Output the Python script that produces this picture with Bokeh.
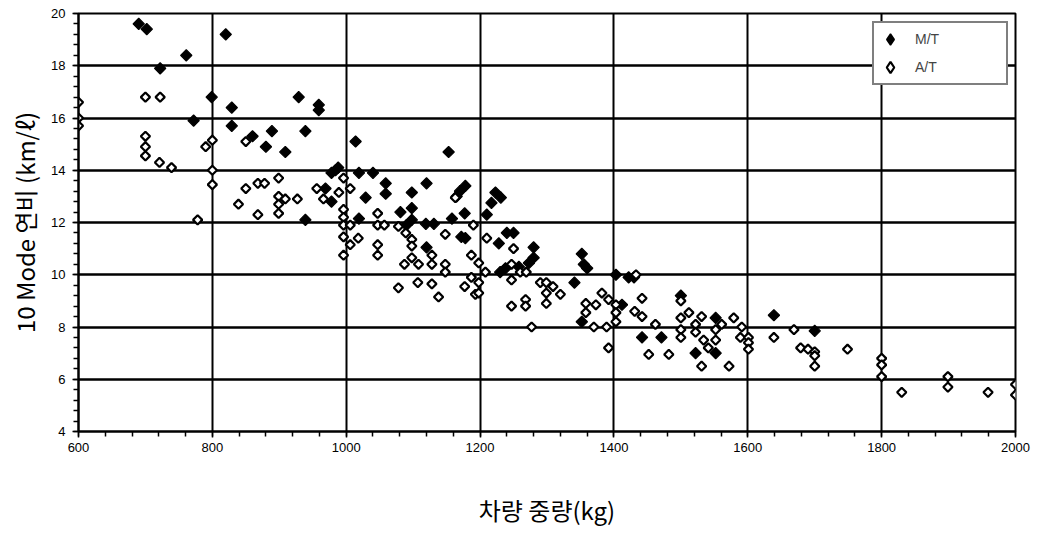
import numpy as np
from bokeh.plotting import figure
from bokeh.models import FixedTicker, Legend, LegendItem, Range1d
from bokeh.embed import file_html
from bokeh.resources import INLINE

# M/T (manual transmission) - vehicle weight (kg), 10 Mode fuel economy (km/l)
mt_weight = [690, 702, 722, 761, 820, 772, 799, 829, 829, 860, 889, 880, 909, 939, 929, 959, 959, 939,
             1014, 978, 988, 969, 978, 984, 1019, 1040, 1153, 1059, 1059, 1029, 1120, 1098, 1098, 1081,
             1019, 1098, 1090, 1119, 1131, 1158, 1177, 1172, 1178, 1120, 1165, 1170, 1178, 1223, 1231,
             1217, 1210, 1240, 1250, 1228, 1280, 1280, 1230, 1238, 1258, 1273, 1352, 1355, 1360, 1341,
             1403, 1422, 1430, 1412, 1352, 1442, 1471, 1522, 1552, 1552, 1639, 1700, 1500]
mt_fuel = [19.6, 19.4, 17.9, 18.4, 19.2, 15.9, 16.8, 16.4, 15.7, 15.3, 15.5, 14.9, 14.7, 15.5, 16.8, 16.5, 16.3, 12.1,
           15.1, 13.9, 14.1, 13.3, 12.8, 14.0, 13.9, 13.9, 14.7, 13.5, 13.1, 12.95, 13.5, 13.15, 12.55, 12.4,
           12.15, 12.1, 11.9, 11.95, 11.95, 12.15, 12.35, 11.45, 11.4, 11.05, 13.0, 13.2, 13.4, 13.15, 12.95,
           12.75, 12.3, 11.6, 11.6, 11.2, 11.05, 10.65, 10.1, 10.25, 10.3, 10.45, 10.8, 10.4, 10.25, 9.7,
           10.0, 9.9, 9.9, 8.85, 8.2, 7.6, 7.6, 7.0, 7.0, 8.35, 8.45, 7.85, 9.2]

# A/T (automatic transmission)
at_weight = [600, 600, 600, 700, 722, 700, 700, 700, 721, 739, 778, 800, 790, 800, 800, 850, 850, 839, 868, 878,
             868, 899, 899, 899, 909, 899, 927, 956, 966, 989, 996, 1006, 996, 996, 996, 996, 1006, 1006, 1018,
             996, 1047, 1047, 1057, 1047, 1047, 1078, 1089, 1098, 1098, 1098, 1087, 1108, 1128, 1128, 1148,
             1148, 1078, 1107, 1128, 1138, 1148, 1163, 1187, 1190, 1177, 1187, 1193, 1210, 1250, 1198, 1198,
             1198, 1208, 1247, 1247, 1260, 1269, 1290, 1299, 1309, 1299, 1320, 1299, 1247, 1268, 1268, 1277,
             1358, 1358, 1373, 1382, 1392, 1403, 1403, 1403, 1370, 1389, 1392, 1433, 1442, 1431, 1442, 1462,
             1500, 1512, 1500, 1500, 1500, 1522, 1522, 1531, 1534, 1541, 1552, 1552, 1561, 1531, 1572, 1452,
             1482, 1579, 1591, 1589, 1601, 1601, 1601, 1639, 1669, 1679, 1690, 1700, 1700, 1700, 1749, 1800,
             1800, 1800, 1830, 1899, 1899, 1959, 2000, 2000]
at_fuel = [16.6, 16.0, 15.7, 16.8, 16.8, 15.3, 14.9, 14.55, 14.3, 14.1, 12.1, 15.15, 14.9, 14.0, 13.45, 15.1, 13.3, 12.7, 13.5, 13.5,
           12.3, 13.7, 13.0, 12.7, 12.9, 12.35, 12.9, 13.3, 12.9, 13.15, 13.7, 13.3, 12.5, 12.2, 11.9, 11.45, 11.9, 11.15, 11.4,
           10.75, 12.35, 11.9, 11.9, 11.15, 10.75, 11.85, 11.6, 11.35, 11.1, 10.65, 10.4, 10.4, 10.75, 10.4, 10.4,
           10.1, 9.5, 9.7, 9.65, 9.15, 11.55, 12.95, 10.75, 11.9, 9.55, 9.9, 9.25, 11.4, 11.0, 10.45, 9.7,
           9.3, 10.1, 10.4, 9.8, 10.1, 10.1, 9.7, 9.7, 9.55, 9.3, 9.25, 8.9, 8.8, 9.05, 8.8, 8.0,
           8.9, 8.55, 8.85, 9.3, 9.05, 8.85, 8.55, 8.2, 8.0, 8.0, 7.2, 10.0, 9.1, 8.6, 8.4, 8.1,
           9.0, 8.55, 8.35, 7.9, 7.6, 8.1, 7.8, 8.4, 7.5, 7.2, 7.5, 7.9, 8.1, 6.5, 6.5, 6.95,
           6.95, 8.35, 8.0, 7.6, 7.6, 7.4, 7.15, 7.6, 7.9, 7.2, 7.15, 7.05, 6.9, 6.5, 7.15, 6.8,
           6.55, 6.1, 5.5, 6.1, 5.7, 5.5, 5.8, 5.4]

x_ticks = [600, 800, 1000, 1200, 1400, 1600, 1800, 2000]
y_ticks = [4, 6, 8, 10, 12, 14, 16, 18, 20]
series_labels = ["M/T", "A/T"]

p = figure(width=1038, height=529, output_backend="svg", toolbar_location=None,
           x_range=Range1d(600, 2000), y_range=Range1d(4, 20),
           min_border_left=78, min_border_right=23, min_border_top=13, min_border_bottom=98)
p.background_fill_color = "white"
p.border_fill_color = "white"
p.outline_line_color = "black"
p.outline_line_width = 2

xminor = np.arange(600, 2001, 40).tolist()
yminor = [round(v, 2) for v in np.arange(4, 20.01, 0.4).tolist()]
p.xaxis.ticker = FixedTicker(ticks=x_ticks, minor_ticks=xminor)
p.yaxis.ticker = FixedTicker(ticks=y_ticks, minor_ticks=yminor)

for ax in (p.xaxis, p.yaxis):
    ax.axis_line_color = "black"
    ax.axis_line_width = 2
    ax.major_tick_line_color = "black"
    ax.minor_tick_line_color = "black"
    ax.major_tick_line_width = 1.5
    ax.minor_tick_line_width = 1.5
    ax.major_tick_in = 0
    ax.major_tick_out = 6
    ax.minor_tick_in = 0
    ax.minor_tick_out = 5
    ax.major_label_text_font = "Liberation Sans"
    ax.major_label_text_font_size = "13px"
    ax.major_label_text_color = "black"
    ax.axis_label_text_font = "Noto Sans CJK KR"
    ax.axis_label_text_font_style = "normal"
    ax.axis_label_text_color = "black"
    ax.axis_label_text_font_size = "24px"

p.xaxis.axis_label = "차량 중량(kg)"
p.yaxis.axis_label = "10 Mode 연비 (km/ℓ)"
p.xaxis.major_label_standoff = 5
p.yaxis.major_label_standoff = 7
p.xaxis.axis_label_standoff = 37
p.yaxis.axis_label_standoff = 6

p.xgrid.grid_line_color = "black"
p.xgrid.grid_line_width = 2
p.ygrid.grid_line_color = "black"
p.ygrid.grid_line_width = 2.5

r_mt = p.scatter(mt_weight, mt_fuel, marker="square", angle=np.pi / 4, size=8,
                 fill_color="black", line_color="black", line_width=1.2)
r_at = p.scatter(at_weight, at_fuel, marker="square", angle=np.pi / 4, size=6.5,
                 fill_color="white", line_color="black", line_width=2.2)

# hidden diamond renderers of the same data, used only for the legend swatches
l_mt = p.scatter(mt_weight, mt_fuel, marker="diamond", fill_color="black", line_color="black",
                 line_width=1.5, visible=False)
l_at = p.scatter(at_weight, at_fuel, marker="diamond", fill_color="white", line_color="black",
                 line_width=2.2, visible=False)

legend = Legend(items=[LegendItem(label=series_labels[0], renderers=[l_mt]),
                       LegendItem(label=series_labels[1], renderers=[l_at])],
                location=(794, 346))
legend.border_line_color = "black"
legend.border_line_width = 2
legend.background_fill_color = "white"
legend.background_fill_alpha = 1
legend.label_text_font = "Liberation Sans"
legend.label_text_font_size = "14px"
legend.glyph_width = 28
legend.glyph_height = 28
legend.label_standoff = 11
legend.label_width = 89
legend.padding = 2
legend.spacing = 0
legend.margin = 0
p.add_layout(legend, "center")

open("out.html", "w").write(file_html(p, INLINE))
